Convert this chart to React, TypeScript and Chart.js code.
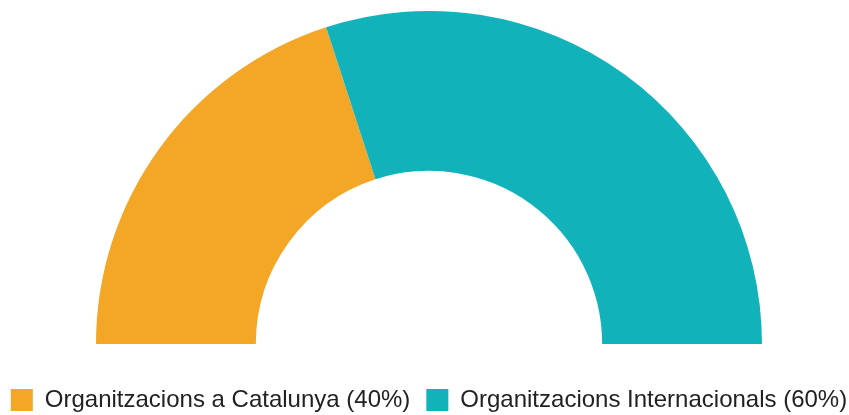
import React, { useEffect, useRef } from "react";
import { Chart, registerables } from "chart.js";

Chart.register(...registerables);

const categories = ["Organitzacions a Catalunya (40%)", "Organitzacions Internacionals (60%)"];
const values = [40, 60];
const colors = ["#F4A626", "#12B2BB"];

export default function App() {
  const ref = useRef<HTMLCanvasElement | null>(null);
  useEffect(() => {
    document.body.style.margin = "0";
    document.body.style.overflow = "hidden";
    const chart = new Chart(ref.current!, {
      type: "doughnut",
      data: {
        labels: categories,
        datasets: [
          {
            data: values,
            backgroundColor: colors,
            borderWidth: 0,
          },
        ],
      },
      options: {
        animation: false,
        responsive: true,
        maintainAspectRatio: false,
        rotation: -90,
        circumference: 180,
        cutout: "52%",
        layout: { padding: { top: 11, left: 9, right: 0, bottom: 0 } },
        plugins: {
          tooltip: { enabled: false },
          legend: {
            position: "bottom",
            title: { display: true, text: "", padding: 0, font: { size: 10, lineHeight: 2.8 } },
            labels: {
              boxWidth: 22,
              boxHeight: 22,
              padding: 16,
              color: "#222",
              font: { family: "Arial, 'Liberation Sans', sans-serif", size: 24 },
            },
          },
        },
      },
    });
    return () => chart.destroy();
  }, []);
  return (
    <div style={{ width: 889, height: 422, marginLeft: -20, position: "relative" }}>
      <canvas ref={ref} />
    </div>
  );
}
